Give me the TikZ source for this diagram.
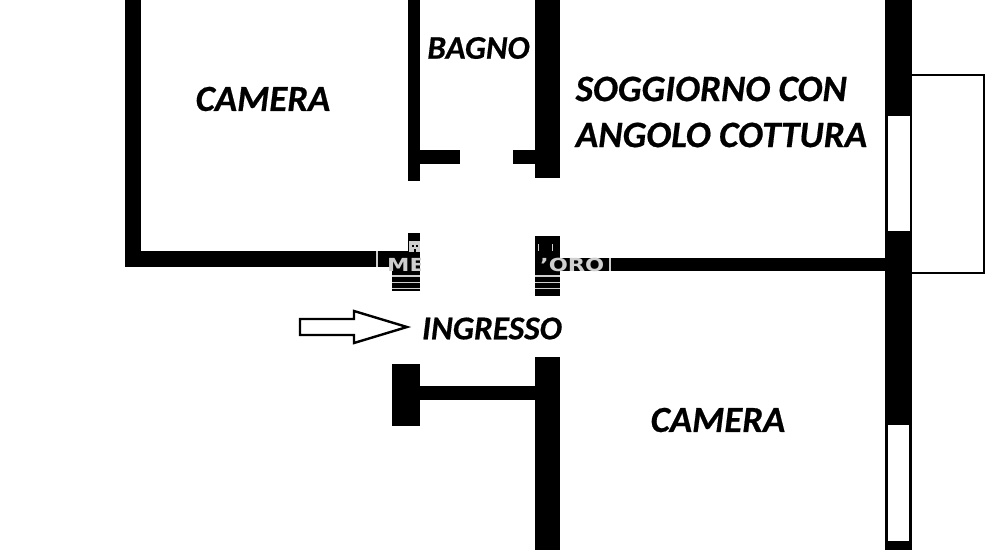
\documentclass[tikz,border=0pt]{standalone}
\usepackage{fontspec}
\setmainfont[BoldItalicFeatures={FakeBold=0.5}]{Carlito}
\newfontfamily\markfont{DejaVu Sans}
\definecolor{wallc}{HTML}{000000}
\definecolor{markc}{HTML}{CFCFCF}
\tikzset{
  wall/.style={fill=wallc, draw=none},
  glass/.style={fill=white, draw=none},
  thin/.style={draw=wallc, line width=2pt, line join=miter},
  arrowl/.style={draw=wallc, line width=2.4pt, line join=miter},
  stripe/.style={fill=markc, draw=none},
  lab/.style={text=black, font=\bfseries\itshape\fontsize{36.8}{38}\selectfont, inner sep=0pt},
  labw/.style={text=black, font=\bfseries\itshape\fontsize{37.2}{38}\selectfont, inner sep=0pt},
  labs/.style={text=black, font=\bfseries\itshape\fontsize{33}{35}\selectfont, inner sep=0pt},
  labi/.style={text=black, font=\bfseries\itshape\fontsize{33.3}{35}\selectfont, inner sep=0pt},
  markt/.style={text=markc, font=\markfont\bfseries\fontsize{18}{18}\selectfont, inner sep=0pt},
}
\begin{document}
\begin{tikzpicture}[x=1pt,y=-1pt]
  \path[use as bounding box, fill=white] (0,0) rectangle (1000,550);

  % left room
  \fill[wall] (125,0) rectangle (141,267);
  \fill[wall] (125,251) rectangle (376,267);
  \fill[wall] (378,251) rectangle (392,267);

  % bathroom
  \fill[wall] (408,0) rectangle (420,181);
  \fill[wall] (420,150) rectangle (459.5,163.5);
  \fill[wall] (513,150) rectangle (535,163.5);
  \fill[wall] (535,0) rectangle (560,178);

  % door jambs at the middle
  \fill[wall] (408,233) rectangle (420,251);
  \fill[wall] (392,251) rectangle (420,291);
  \fill[wall] (535,236) rectangle (560,296);
  \fill[wall] (560,258) rectangle (609,271);
  \fill[wall] (611,258) rectangle (885,271);

  % right wall and windows
  \fill[wall] (885,0) rectangle (912,550);
  \fill[glass] (887.5,116) rectangle (909.5,231);
  \fill[glass] (887.5,425) rectangle (908.5,541);

  % balcony
  \draw[thin] (912,75) -- (984,75) -- (984,273) -- (912,273);

  % lower room
  \fill[wall] (392,364) rectangle (420,426);
  \fill[wall] (420,385.5) rectangle (535,400);
  \fill[wall] (535,357) rectangle (560,550);

  % watermark leftovers
  \fill[stripe] (376,251) rectangle (378,267);
  \fill[stripe] (609,258) rectangle (611,271);
  \foreach \y in {275,281.5,287.5} {
    \fill[stripe] (392,\y) rectangle (420,\y+1.8);
    \fill[stripe] (535,\y) rectangle (560,\y+1.8);
  }
  \fill[stripe] (409,241) rectangle (420,252);
  \fill[wall] (412,245) rectangle (414,247);
  \fill[wall] (416,245) rectangle (418,247);
  \fill[wall] (414,249) rectangle (416,252);
  \fill[stripe] (537.5,244) rectangle (539,251);
  \fill[stripe] (551.5,244) rectangle (553,251);
  \begin{scope}
    \clip (380,250) rectangle (420,275);
    \node[markt, anchor=base west] (markl) at (387,271) {\scalebox{1.25}[1]{ME}};
  \end{scope}
  \node[markt, anchor=base west] (markr) at (540,271) {\scalebox{1.25}[1]{’ORO}};

  % entrance arrow
  \draw[arrowl] (300,319) -- (354,319) -- (354,311) -- (407,327) -- (354,343)
    -- (354,335) -- (300,335) -- cycle;

  \node[lab] (camera1) at (263,99) {CAMERA};
  \node[labs] (bagno) at (478.5,48) {BAGNO};
  \node[labw, anchor=west] (soggiorno) at (575.5,89) {SOGGIORNO CON};
  \node[labw, anchor=west] (angolo) at (575.5,135) {ANGOLO COTTURA};
  \node[labi] (ingresso) at (492,328.5) {INGRESSO};
  \node[lab] (camera2) at (718,420) {CAMERA};
\end{tikzpicture}
\end{document}
